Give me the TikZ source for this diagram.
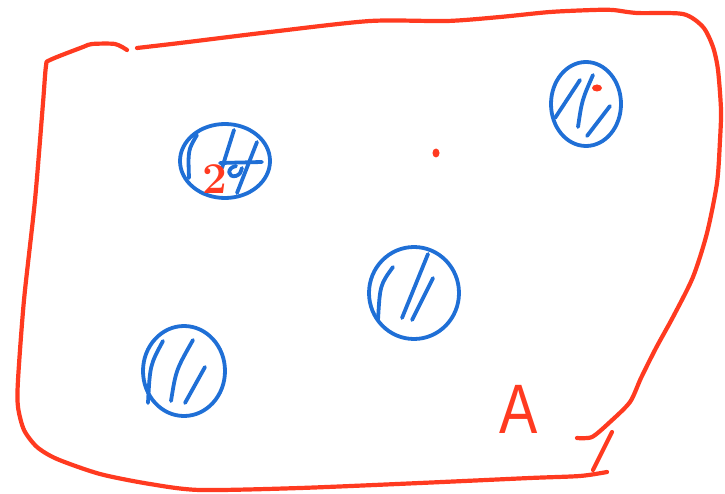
\documentclass[tikz,border=0pt]{standalone}
\usepackage{fontspec}
\newfontfamily\handfont{Liberation Sans}
\definecolor{penred}{HTML}{FF3A20}
\definecolor{penblue}{HTML}{1F6FD6}
\tikzset{
  redpen/.style={draw=penred,line width=4.2pt,line cap=round,line join=round},
  bluepen/.style={draw=penblue,line width=3.8pt,line cap=round,line join=round},
}
\begin{document}
\begin{tikzpicture}[x=1pt,y=-1pt]
\useasboundingbox (0,0) rectangle (725,494);
% outline, left and bottom part
\draw[redpen] plot[smooth,tension=0.45] coordinates{
 (127,50) (115,44) (92,44) (83,47) (50,60) (46,66) (43,103) (35,200)
 (24,300) (18,380) (18,407) (24,430) (37,447) (57,459) (100,474)
 (150,484) (200,490) (300,488) (420,483) (530,478) (580,476) (607,472)};
% outline, top and right part
\draw[redpen] plot[smooth,tension=0.45] coordinates{
 (137,48) (180,43) (270,32) (370,21) (447,21) (500,17) (550,12) (593,10)
 (613,10) (637,13) (683,14) (703,27) (713,47) (718,70) (721,110)
 (720,140) (717,183) (707,233) (693,277) (673,317) (656,348) (641,378)
 (630,402) (610,422) (592,437) (577,438)};
% the small stroke near the corner
\coordinate (hookTop) at (612,432);
\coordinate (hookBot) at (593,470);
\draw[redpen] (hookTop) -- (hookBot);
% label and dots
\node[text=penred,font=\handfont\fontsize{70}{70}\selectfont,xscale=0.82,inner sep=0pt] (labelA) at (519,409) {A};
\fill[penred] (436,153) ellipse (3.5pt and 4.5pt);
\fill[penred] (597,88) ellipse (5pt and 3.5pt);
% circle 1
\draw[bluepen] (225,161) ellipse (45 and 37);
\draw[bluepen] (197,135) .. controls (188,150) .. (189,178);
\draw[bluepen] (234,130) -- (222,168);
\draw[bluepen] (257,142) -- (237,193);
\draw[bluepen] (220,163) -- (262,162);
\draw[bluepen] (236,166) .. controls (226,168) and (228,178) .. (236,176) .. controls (240,174) .. (242,168);
\node[text=penred,font=\bfseries\fontsize{44}{44}\selectfont,inner sep=0pt] (two) at (215,179) {2};
% circle 2
\draw[bluepen] (586,104) ellipse (35 and 42);
\draw[bluepen] (580,80) -- (555,118);
\draw[bluepen] (593,75) .. controls (582,100) .. (578,127);
\draw[bluepen] (610,106) -- (587,136);
% circle 3
\draw[bluepen] (414,293) ellipse (45 and 46);
\draw[bluepen] (393,267) .. controls (380,285) .. (378,320);
\draw[bluepen] (428,254) -- (402,318);
\draw[bluepen] (433,278) -- (412,320);
% circle 4
\draw[bluepen] (184,371) ellipse (41 and 45);
\draw[bluepen] (163,341) .. controls (150,365) .. (148,403);
\draw[bluepen] (193,340) .. controls (176,370) .. (171,401);
\draw[bluepen] (205,367) -- (185,403);
\end{tikzpicture}
\end{document}
